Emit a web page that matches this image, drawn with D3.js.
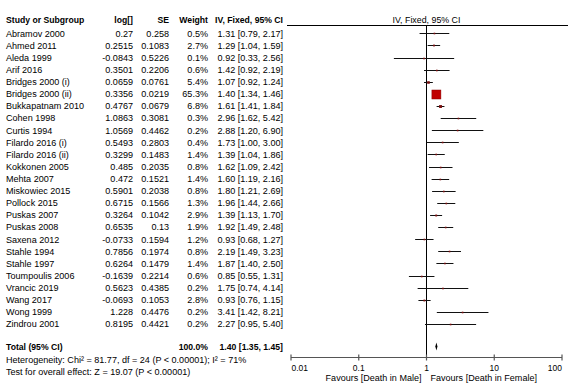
<!DOCTYPE html>
<html><head><meta charset="utf-8">
<script src="https://cdn.jsdelivr.net/npm/d3@7"></script>
<style>
html,body{margin:0;padding:0;background:#fff;}
svg{display:block;font-family:"Liberation Sans",Arial,sans-serif;}
</style></head>
<body><svg id="c" width="568" height="391"></svg>
<script>
const studies = ["Abramov 2000","Ahmed 2011","Aleda 1999","Arif 2016","Bridges 2000 (i)","Bridges 2000 (ii)","Bukkapatnam 2010","Cohen 1998","Curtis 1994","Filardo 2016 (i)","Filardo 2016 (ii)","Kokkonen 2005","Mehta 2007","Miskowiec 2015","Pollock 2015","Puskas 2007","Puskas 2008","Saxena 2012","Stahle 1994","Stahle 1997","Toumpoulis 2006","Vrancic 2019","Wang 2017","Wong 1999","Zindrou 2001"];
const logVals = ["0.27","0.2515","-0.0843","0.3501","0.0659","0.3356","0.4767","1.0863","1.0569","0.5493","0.3299","0.485","0.472","0.5901","0.6715","0.3264","0.6535","-0.0733","0.7856","0.6264","-0.1639","0.5623","-0.0693","1.228","0.8195"];
const seVals = ["0.258","0.1083","0.5226","0.2206","0.0761","0.0219","0.0679","0.3081","0.4462","0.2803","0.1483","0.2035","0.1521","0.2038","0.1566","0.1042","0.13","0.1594","0.1974","0.1479","0.2214","0.4385","0.1053","0.4476","0.4421"];
const weights = [0.5,2.7,0.1,0.6,5.4,65.3,6.8,0.3,0.2,0.4,1.4,0.8,1.4,0.8,1.3,2.9,1.9,1.2,0.8,1.4,0.6,0.2,2.8,0.2,0.2];
const est = [1.31,1.29,0.92,1.42,1.07,1.40,1.61,2.96,2.88,1.73,1.39,1.62,1.60,1.80,1.96,1.39,1.92,0.93,2.19,1.87,0.85,1.75,0.93,3.41,2.27];
const lo  = [0.79,1.04,0.33,0.92,0.92,1.34,1.41,1.62,1.20,1.00,1.04,1.09,1.19,1.21,1.44,1.13,1.49,0.68,1.49,1.40,0.55,0.74,0.76,1.42,0.95];
const hi  = [2.17,1.59,2.56,2.19,1.24,1.46,1.84,5.42,6.90,3.00,1.86,2.42,2.16,2.69,2.66,1.70,2.48,1.27,3.23,2.50,1.31,4.14,1.15,8.21,5.40];
const total = {est:1.40, lo:1.35, hi:1.45, weight:"100.0%"};
const tickVals = [0.01,0.1,1,10,100];
const tickLabels = ["0.01","0.1","1","10","100"];
const heterogeneityText = "Heterogeneity: Chi\u00B2 = 81.77, df = 24 (P < 0.00001); I\u00B2 = 71%";
const overallText = "Test for overall effect: Z = 19.07 (P < 0.00001)";
const favourLeft = "Favours [Death in Male]";
const favourRight = "Favours [Death in Female]";

const svg = d3.select("#c");

// horizontal squeeze factor so glyph heights match while widths match the reference
function fitSX(str, size, targetW, bold){
  const t = svg.append("text").attr("font-size",size).attr("font-weight",bold?"bold":"normal").text(str);
  const w = t.node().getComputedTextLength();
  t.remove();
  return targetW/w;
}
const FS = 9.5;
const sxBody = fitSX("Abramov 2000", FS, 59, false);
const sxBold = fitSX("IV, Fixed, 95% CI", FS, 68, true);
const sxPlotHdr = fitSX("IV, Fixed, 95% CI", FS, 68, false);
const sxTick = fitSX("0.01", FS, 16.5, false);
const sxFav = fitSX(favourLeft, FS, 96, false);

function txt(parent, xx, yy, str, o){
  o = o || {};
  return parent.append("text")
    .attr("transform",`translate(${xx},${yy}) scale(${o.sx||1},1)`)
    .attr("dy","0.35em")
    .attr("font-size",o.size||FS)
    .attr("font-weight",o.bold?"bold":"normal")
    .attr("text-anchor",o.anchor||"start")
    .attr("fill","#000")
    .text(str);
}

const x = d3.scaleLog().domain([0.01,100]).range([291,562]);
const y = d3.scalePoint().domain(studies).range([33.3,324]);
const size = d3.scaleSqrt().domain([0,65.3]).range([0,9]);
const fmt = d3.format(".2f");
const axisY = 357.5;

// headers
const hdr = svg.append("g");
const hb = {bold:true, sx:sxBold};
txt(hdr,6,20,"Study or Subgroup",hb);
txt(hdr,133,20,"log[]",{...hb,anchor:"end"});
txt(hdr,169,20,"SE",{...hb,anchor:"end"});
txt(hdr,208,20,"Weight",{...hb,anchor:"end"});
txt(hdr,283,20,"IV, Fixed, 95% CI",{...hb,anchor:"end"});
txt(hdr,x(1),20,"IV, Fixed, 95% CI",{anchor:"middle",sx:sxPlotHdr});
svg.append("line").attr("x1",287).attr("x2",568).attr("y1",25.5).attr("y2",25.5).attr("stroke","#000").attr("stroke-width",1);

// rows
const rows = svg.append("g");
const rb = {sx:sxBody};
studies.forEach((s,i)=>{
  const yy = y(s);
  txt(rows,6,yy,s,rb);
  txt(rows,133,yy,logVals[i],{...rb,anchor:"end"});
  txt(rows,169,yy,seVals[i],{...rb,anchor:"end"});
  txt(rows,208,yy,weights[i].toFixed(1)+"%",{...rb,anchor:"end"});
  txt(rows,283,yy,fmt(est[i])+" ["+fmt(lo[i])+", "+fmt(hi[i])+"]",{...rb,anchor:"end"});
});

// total
const tg = svg.append("g");
const ty = 346.5;
txt(tg,6,ty,"Total (95% CI)",hb);
txt(tg,208,ty,total.weight,{...hb,anchor:"end"});
txt(tg,283,ty,fmt(total.est)+" ["+fmt(total.lo)+", "+fmt(total.hi)+"]",{...hb,anchor:"end"});
txt(svg,6,359.5,heterogeneityText,rb);
txt(svg,6,372,overallText,rb);

// plot: null line
svg.append("line").attr("x1",x(1)).attr("x2",x(1)).attr("y1",25.5).attr("y2",axisY).attr("stroke","#000").attr("stroke-width",1);

// CIs and squares
const pg = svg.append("g");
studies.forEach((s,i)=>{
  const yy = Math.round(y(s))+0.5;
  pg.append("line").attr("x1",x(lo[i])).attr("x2",x(hi[i])).attr("y1",yy).attr("y2",yy)
    .attr("stroke","#111").attr("stroke-width",1);
  const sz = Math.max(1.6, size(weights[i]));
  pg.append("rect").attr("x",x(est[i])-sz/2).attr("y",yy-sz/2).attr("width",sz).attr("height",sz)
    .attr("fill", sz>4 ? "#c00000" : "#7a1010").attr("stroke", sz>4 ? "#8a0000":"none").attr("stroke-width",0.5);
});

// diamond
const dh = 4;
svg.append("path").attr("d",`M${x(total.lo)},${ty} L${x(total.est)},${ty-dh} L${x(total.hi)},${ty} L${x(total.est)},${ty+dh} Z`)
  .attr("fill","#000");

// axis
const ax = svg.append("g").attr("transform",`translate(0,${axisY})`);
ax.append("line").attr("x1",x(0.01)).attr("x2",x(100)).attr("stroke","#555").attr("stroke-width",1.2);
ax.selectAll(".tk").data(tickVals).enter().append("line")
  .attr("x1",d=>x(d)).attr("x2",d=>x(d)).attr("y1",-3).attr("y2",3).attr("stroke","#555").attr("stroke-width",1.2);
tickVals.forEach((d,i)=>{
  txt(ax, x(d)+(i===0?0.5:0), 10, tickLabels[i],
      {sx:sxTick, anchor: i===0?"start":(i===tickVals.length-1?"end":"middle")});
});
txt(svg,x(1)-5,377.5,favourLeft,{sx:sxFav,anchor:"end"});
txt(svg,x(1)+4,377.5,favourRight,{sx:sxFav});
</script></body></html>
